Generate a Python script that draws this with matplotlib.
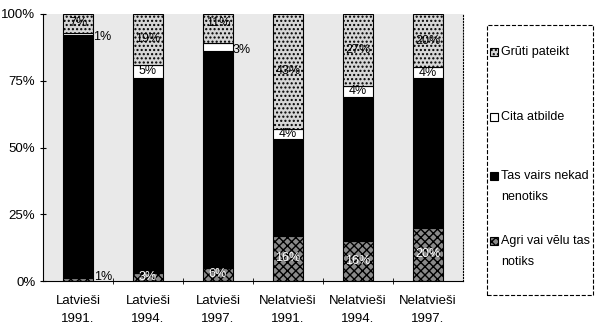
import numpy as np
import matplotlib.pyplot as plt
from matplotlib.patches import Rectangle

plt.rcParams['font.family'] = ['Liberation Sans', 'DejaVu Sans']

# ---------------      Datos       -------------------------
grupas = ['Latvieši\n1991.', 'Latvieši\n1994.', 'Latvieši\n1997.',
          'Nelatvieši\n1991.', 'Nelatvieši\n1994.', 'Nelatvieši\n1997.']
agri = [1, 3, 5, 17, 15, 20]
tas_vairs = [91, 73, 81, 36, 54, 56]
cita = [1, 5, 3, 4, 4, 4]
gruti = [7, 19, 11, 43, 27, 20]

# etiquetas mostradas en el grafico
agri_lbl = ['1%', '3%', '6%', '16%', '16%', '20%']
cita_lbl = ['1%', '5%', '3%', '4%', '4%', '4%']
gruti_lbl = ['7%', '19%', '11%', '43%', '27%', '20%']

fig = plt.figure(figsize=(6, 3.3), dpi=100)
ax = fig.add_axes([43/600, 1-281/330, 420/600, 267/330])
ax.set_facecolor('#e9e9e9')

x = np.arange(len(grupas))
w = 0.42
agri = np.array(agri)
tas_vairs = np.array(tas_vairs)
cita = np.array(cita)
gruti = np.array(gruti)

estilos = {
    'agri': dict(facecolor='#8a8a8a', edgecolor='black', lw=0.8, hatch='xxxx'),
    'tas': dict(facecolor='black', edgecolor='black', lw=0.8),
    'cita': dict(facecolor='white', edgecolor='black', lw=0.8),
    'gruti': dict(facecolor='#d6d6d6', edgecolor='black', lw=0.8, hatch='....'),
}

ax.bar(x, agri, w, **estilos['agri'])
ax.bar(x, tas_vairs, w, bottom=agri, **estilos['tas'])
ax.bar(x, cita, w, bottom=agri+tas_vairs, **estilos['cita'])
ax.bar(x, gruti, w, bottom=agri+tas_vairs+cita, **estilos['gruti'])

fs = 9
for i in range(len(x)):
    # agri
    if agri[i] < 2:
        ax.text(x[i]+w/2+0.02, 1.5, agri_lbl[i], fontsize=fs, va='center', ha='left')
    else:
        ax.text(x[i], agri[i]/2, agri_lbl[i], fontsize=fs, va='center', ha='center',
                color='white')
    # cita
    yc = agri[i]+tas_vairs[i]+cita[i]/2
    if cita[i] < 4:
        ax.text(x[i]+w/2, yc-1, cita_lbl[i], fontsize=fs, va='center', ha='left')
    else:
        ax.text(x[i], yc, cita_lbl[i], fontsize=fs, va='center', ha='center')
    # gruti
    yg = agri[i]+tas_vairs[i]+cita[i]+gruti[i]/2
    if gruti[i] < 12:
        yg = 100 - 3.5
    ax.text(x[i], yg, gruti_lbl[i], fontsize=fs, va='center', ha='center')

ax.set_xlim(-0.5, len(x)-0.5)
ax.set_ylim(0, 100)
ax.set_yticks([0, 25, 50, 75, 100])
ax.set_yticklabels(['0%', '25%', '50%', '75%', '100%'], fontsize=9.5)
ax.set_xticks(x)
ax.set_xticklabels(grupas, fontsize=9.5, linespacing=1.7)
ax.set_xticks(np.arange(0.5, len(x)-0.5, 1), minor=True)
ax.tick_params(axis='x', which='major', length=0, pad=10)
ax.tick_params(axis='x', which='minor', length=4, direction='inout')
ax.tick_params(axis='y', length=5, direction='inout', pad=3)
ax.spines['top'].set_visible(False)
ax.spines['right'].set_linestyle(':')

# ---------------      Leyenda       -------------------------
fig.patches.append(Rectangle((487/600, 1-295/330), 106/600, 270/330,
                             transform=fig.transFigure, fill=False,
                             edgecolor='black', lw=0.8, ls='--'))

leyenda = [('gruti', 'Grūti pateikt', 52),
           ('cita', 'Cita atbilde', 117),
           ('tas', 'Tas vairs nekad\nnenotiks', 176),
           ('agri', 'Agri vai vēlu tas\nnotiks', 241)]
for clave, texto, ypx in leyenda:
    fig.patches.append(Rectangle((490/600, 1-(ypx+4)/330), 8/600, 8/330,
                                 transform=fig.transFigure, **estilos[clave]))
    fig.text(501/600, 1-(ypx-6)/330, texto, fontsize=9, va='top', ha='left',
             linespacing=2.05)

fig.savefig('out.png', dpi=100)
